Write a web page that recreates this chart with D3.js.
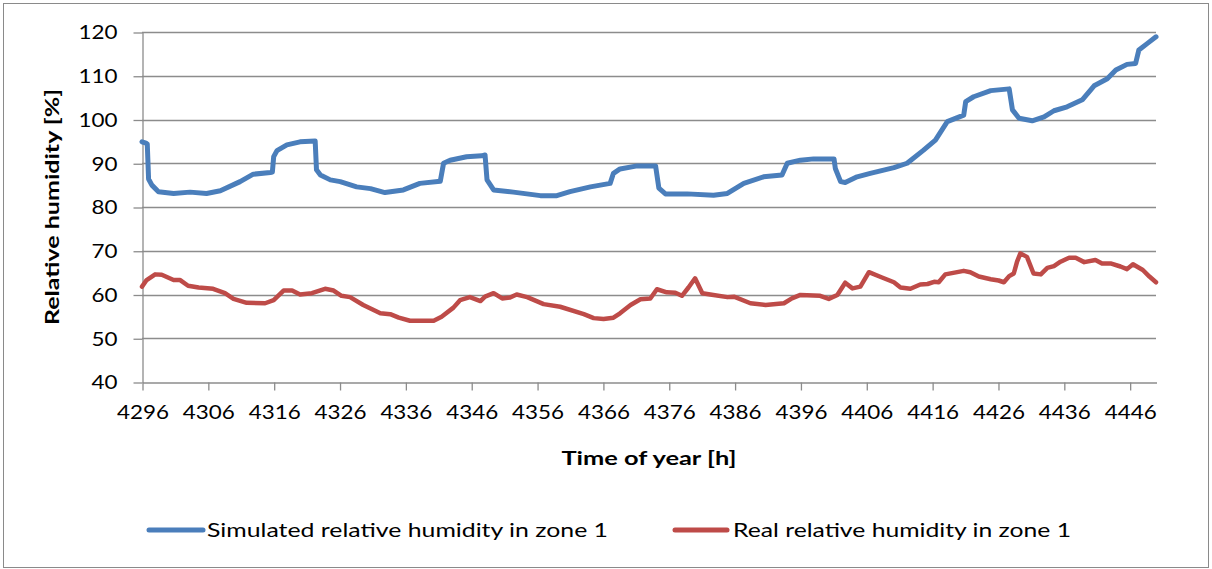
<!DOCTYPE html>
<html>
<head>
<meta charset="utf-8">
<script src="https://cdn.jsdelivr.net/npm/d3@7/dist/d3.min.js"></script>
<style>
  html, body { margin: 0; padding: 0; background: #fff; }
  svg { display: block; }
  text { font-family: Lato, "Open Sans", sans-serif; fill: #000; }
</style>
</head>
<body>
<svg id="chart" width="1212" height="569"></svg>
<script>
// ---- data ----
const simHours = [4296.0, 4296.6, 4296.8, 4297.0, 4297.5, 4298.5, 4300.8, 4303.3, 4305.8, 4307.9, 4310.9, 4312.9, 4315.5, 4315.8, 4316.0, 4316.5, 4318.0, 4320.0, 4322.3, 4322.5, 4323.1, 4324.6, 4326.1, 4328.6, 4330.7, 4332.9, 4335.7, 4338.2, 4341.3, 4341.8, 4342.8, 4345.3, 4347.6, 4348.1, 4348.4, 4349.4, 4352.4, 4356.5, 4359.0, 4361.0, 4364.1, 4367.1, 4367.6, 4368.6, 4371.2, 4374.0, 4374.5, 4375.5, 4378.8, 4382.8, 4384.9, 4387.4, 4390.4, 4393.2, 4394.0, 4396.0, 4398.0, 4401.1, 4401.3, 4402.1, 4402.8, 4404.6, 4406.6, 4410.2, 4412.2, 4414.7, 4416.5, 4418.3, 4420.8, 4421.1, 4422.3, 4424.9, 4427.7, 4428.2, 4429.2, 4431.2, 4433.0, 4434.5, 4436.5, 4438.8, 4440.6, 4442.6, 4443.9, 4445.6, 4446.9, 4447.4, 4448.7, 4450.0];
const simValues = [94.9, 94.6, 94.4, 86.4, 85.0, 83.5, 83.1, 83.4, 83.1, 83.7, 85.8, 87.5, 87.9, 88.0, 91.5, 92.9, 94.2, 94.9, 95.1, 88.5, 87.3, 86.2, 85.8, 84.6, 84.2, 83.3, 83.9, 85.4, 85.9, 90.0, 90.7, 91.5, 91.7, 91.9, 86.2, 83.9, 83.4, 82.6, 82.6, 83.5, 84.6, 85.4, 87.7, 88.7, 89.4, 89.4, 84.3, 83.0, 83.0, 82.7, 83.1, 85.4, 86.9, 87.3, 90.0, 90.7, 91.0, 91.0, 88.8, 85.8, 85.6, 86.9, 87.7, 89.0, 90.0, 93.0, 95.3, 99.5, 101.0, 104.1, 105.2, 106.6, 107.0, 102.2, 100.3, 99.7, 100.6, 102.0, 102.9, 104.5, 107.7, 109.3, 111.3, 112.6, 112.8, 115.9, 117.4, 118.9];

const realHours = [4296.0, 4296.7, 4298.0, 4299.0, 4300.8, 4301.8, 4303.0, 4304.6, 4306.8, 4308.6, 4309.9, 4311.9, 4314.7, 4316.0, 4317.5, 4318.8, 4320.0, 4321.8, 4323.8, 4325.1, 4326.3, 4327.6, 4329.6, 4332.2, 4333.7, 4335.0, 4336.7, 4340.3, 4341.5, 4343.3, 4344.3, 4345.8, 4347.4, 4348.1, 4349.4, 4350.7, 4351.9, 4352.9, 4354.5, 4357.0, 4359.5, 4363.1, 4364.6, 4366.1, 4367.6, 4368.6, 4370.2, 4371.7, 4373.2, 4374.2, 4375.7, 4377.0, 4378.0, 4379.0, 4380.0, 4381.1, 4382.3, 4384.9, 4385.9, 4388.4, 4390.7, 4393.5, 4394.7, 4396.0, 4399.0, 4400.3, 4401.6, 4402.8, 4403.9, 4405.1, 4406.4, 4408.2, 4410.2, 4411.2, 4412.7, 4414.2, 4415.3, 4416.3, 4417.0, 4418.0, 4420.8, 4421.8, 4423.1, 4424.9, 4426.1, 4426.9, 4427.7, 4428.4, 4428.9, 4429.4, 4430.4, 4431.4, 4432.5, 4433.5, 4434.5, 4435.5, 4436.8, 4437.8, 4439.1, 4440.8, 4441.8, 4443.1, 4444.6, 4445.6, 4446.5, 4448.0, 4449.0, 4450.0];
const realValues = [61.8, 63.3, 64.6, 64.5, 63.3, 63.3, 62.0, 61.6, 61.3, 60.3, 59.0, 58.1, 58.0, 58.7, 60.9, 60.9, 60.0, 60.3, 61.3, 60.9, 59.7, 59.4, 57.6, 55.7, 55.5, 54.7, 54.0, 54.0, 54.9, 57.0, 58.7, 59.4, 58.5, 59.5, 60.3, 59.1, 59.3, 60.0, 59.4, 57.8, 57.2, 55.5, 54.6, 54.4, 54.7, 55.7, 57.6, 58.9, 59.1, 61.2, 60.5, 60.4, 59.7, 61.6, 63.7, 60.3, 60.0, 59.4, 59.5, 58.0, 57.6, 58.0, 59.1, 59.9, 59.7, 59.0, 59.9, 62.7, 61.4, 61.8, 65.1, 64.0, 62.8, 61.6, 61.3, 62.3, 62.4, 62.9, 62.8, 64.6, 65.4, 65.1, 64.1, 63.5, 63.2, 62.8, 64.2, 64.8, 67.5, 69.4, 68.6, 64.8, 64.6, 66.1, 66.5, 67.5, 68.4, 68.4, 67.4, 67.9, 67.1, 67.1, 66.4, 65.8, 66.9, 65.6, 64.1, 62.8];

const yTicks = [40, 50, 60, 70, 80, 90, 100, 110, 120];
const xTicks = [4296, 4306, 4316, 4326, 4336, 4346, 4356, 4366, 4376, 4386, 4396, 4406, 4416, 4426, 4436, 4446];
const seriesNames = ["Simulated relative humidity in zone 1", "Real relative humidity in zone 1"];
const seriesColors = ["#4A7EBB", "#BE4B48"];

// ---- drawing ----
(function () {
const svg = d3.select("#chart");
const W = 1212, H = 569;
const mLeft = 142, mRight = 1156, mTop = 32, mBottom = 382;

svg.append("rect").attr("x", 3.5).attr("y", 3.5).attr("width", W - 7).attr("height", H - 5)
  .attr("fill", "#fff").attr("stroke", "#8a8a8a").attr("stroke-width", 1);

const x = d3.scaleLinear().domain([4296, 4450]).range([mLeft, mRight]);
const y = d3.scaleLinear().domain([40, 120]).range([mBottom, mTop]);

const gridColor = "#8c8c8c";

// gridlines
svg.append("g").selectAll("line").data(yTicks.filter(t => t > 40)).join("line")
  .attr("x1", mLeft).attr("x2", mRight)
  .attr("y1", d => Math.round(y(d)) + 0.5).attr("y2", d => Math.round(y(d)) + 0.5)
  .attr("stroke", gridColor).attr("stroke-width", 1.3);

// y axis
const yAxis = svg.append("g").attr("transform", `translate(${mLeft + 0.5},0.5)`)
  .call(d3.axisLeft(y).tickValues(yTicks).tickSize(9).tickSizeOuter(0).tickPadding(16).tickFormat(d3.format("d")));
yAxis.select(".domain").attr("stroke", gridColor).attr("stroke-width", 1.3);
yAxis.selectAll(".tick line").attr("stroke", gridColor).attr("stroke-width", 1.3);
yAxis.selectAll(".tick text").attr("font-size", 20).attr("fill", "#000")
  .attr("font-family", "Lato, sans-serif")
  .attr("textLength", function () { return this.textContent.length * 13; })
  .attr("lengthAdjust", "spacingAndGlyphs");

// x axis
const xAxis = svg.append("g").attr("transform", `translate(0.5,${mBottom + 0.5})`)
  .call(d3.axisBottom(x).tickValues(xTicks).tickSize(8).tickSizeOuter(0).tickPadding(14).tickFormat(d3.format("d")));
xAxis.select(".domain").attr("stroke", gridColor).attr("stroke-width", 1.3);
xAxis.selectAll(".tick line").attr("stroke", gridColor).attr("stroke-width", 1.3);
xAxis.selectAll(".tick text").attr("font-size", 20).attr("fill", "#000")
  .attr("font-family", "Lato, sans-serif")
  .attr("textLength", function () { return this.textContent.length * 13; })
  .attr("lengthAdjust", "spacingAndGlyphs");

// lines
const line = d3.line().x(d => x(d[0])).y(d => y(d[1]));
const simData = simHours.map((h, i) => [h, simValues[i]]);
const realData = realHours.map((h, i) => [h, realValues[i]]);

svg.append("path").datum(realData).attr("d", line)
  .attr("fill", "none").attr("stroke", seriesColors[1]).attr("stroke-width", 4.5)
  .attr("stroke-linejoin", "round").attr("stroke-linecap", "round");
svg.append("path").datum(simData).attr("d", line)
  .attr("fill", "none").attr("stroke", seriesColors[0]).attr("stroke-width", 5)
  .attr("stroke-linejoin", "round").attr("stroke-linecap", "round");

// axis titles
svg.append("text").attr("transform", `translate(59,${(mTop + mBottom) / 2}) rotate(-90)`)
  .attr("text-anchor", "middle").attr("font-weight", "bold").attr("font-size", 19)
  .attr("textLength", 236).attr("lengthAdjust", "spacingAndGlyphs")
  .text("Relative humidity [%]");
svg.append("text").attr("x", (mLeft + mRight) / 2).attr("y", 465)
  .attr("text-anchor", "middle").attr("font-weight", "bold").attr("font-size", 19)
  .attr("textLength", 175).attr("lengthAdjust", "spacingAndGlyphs")
  .text("Time of year [h]");

// legend
const legendItems = [
  { name: seriesNames[0], color: seriesColors[0], x0: 149, x1: 203, tx: 207, tw: 401 },
  { name: seriesNames[1], color: seriesColors[1], x0: 675, x1: 727, tx: 733, tw: 338 }
];
const lg = svg.append("g");
legendItems.forEach(it => {
  lg.append("line").attr("x1", it.x0).attr("x2", it.x1).attr("y1", 530).attr("y2", 530)
    .attr("stroke", it.color).attr("stroke-width", 5).attr("stroke-linecap", "round");
  lg.append("text").attr("x", it.tx).attr("y", 537).attr("font-size", 20)
    .attr("textLength", it.tw).attr("lengthAdjust", "spacingAndGlyphs")
    .text(it.name);
});
})();
</script>
</body>
</html>
